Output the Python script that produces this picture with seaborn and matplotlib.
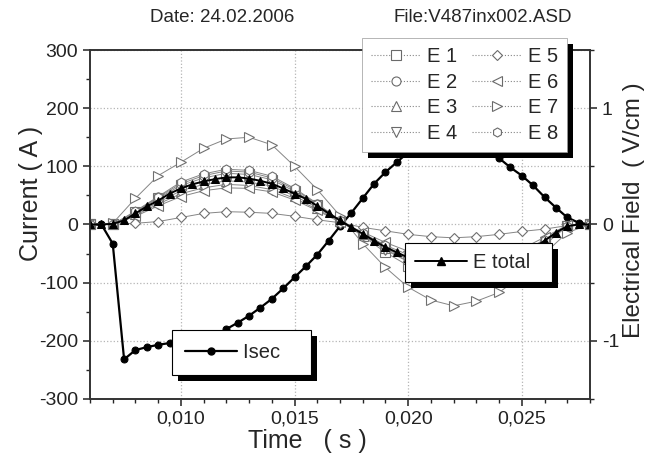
import numpy as np
import matplotlib
matplotlib.use("Agg")
import matplotlib.pyplot as plt
from matplotlib.lines import Line2D
from matplotlib.patches import Rectangle
from matplotlib.ticker import MultipleLocator, FuncFormatter
import seaborn as sns

# sampling times (s)
t_fine = np.round(np.arange(0.006, 0.02801, 0.0005), 4)    # Isec, E total
t_coarse = np.round(np.arange(0.006, 0.02801, 0.001), 3)   # E 1 .. E 8

# secondary current (A)
isec = [0, 0, -33, -232, -216, -211, -207, -204, -201, -198,
        -196, -191, -180, -169, -157, -143, -128, -110, -91, -72,
        -52, -28, -3, 20, 45, 70, 90, 107, 124, 139,
        150, 157, 159, 155, 144, 129, 114, 98, 84, 67,
        47, 29, 12, 3, 0]

# electrical field (V/cm)
e_total = [0, 0, 0.005, 0.035, 0.095, 0.155, 0.205, 0.265, 0.31, 0.345,
           0.37, 0.39, 0.405, 0.405, 0.395, 0.375, 0.35, 0.31, 0.265, 0.22,
           0.16, 0.095, 0.035, -0.025, -0.08, -0.14, -0.195, -0.24, -0.285, -0.325,
           -0.35, -0.37, -0.39, -0.39, -0.38, -0.355, -0.325, -0.295, -0.26, -0.205,
           -0.14, -0.07, -0.015, 0, 0]

e1 = [0, 0, 0.105, 0.225, 0.335, 0.40, 0.44, 0.43, 0.385, 0.285, 0.165, 0.03,
      -0.10, -0.24, -0.355, -0.44, -0.485, -0.475, -0.405, -0.32, -0.175, -0.015, 0]
e2 = [0, 0, 0.11, 0.235, 0.35, 0.42, 0.46, 0.45, 0.40, 0.30, 0.175, 0.035,
      -0.09, -0.215, -0.315, -0.39, -0.43, -0.42, -0.36, -0.285, -0.155, -0.01, 0]
e3 = [0, 0, 0.09, 0.19, 0.29, 0.345, 0.375, 0.365, 0.33, 0.245, 0.145, 0.03,
      -0.085, -0.205, -0.30, -0.375, -0.41, -0.40, -0.34, -0.275, -0.145, -0.01, 0]
e4 = [0, 0, 0.08, 0.175, 0.265, 0.315, 0.345, 0.335, 0.30, 0.225, 0.13, 0.025,
      -0.09, -0.22, -0.32, -0.40, -0.44, -0.43, -0.365, -0.29, -0.155, -0.01, 0]
e5 = [0, 0, 0.01, 0.025, 0.06, 0.095, 0.11, 0.105, 0.095, 0.07, 0.04, 0.015,
      -0.025, -0.055, -0.085, -0.105, -0.115, -0.105, -0.085, -0.06, -0.04, -0.01, 0]
e6 = [0, 0, 0.07, 0.16, 0.24, 0.29, 0.315, 0.31, 0.28, 0.21, 0.12, 0.02,
      -0.065, -0.155, -0.23, -0.285, -0.31, -0.305, -0.26, -0.21, -0.11, -0.005, 0]
e7 = [0, 0.01, 0.225, 0.42, 0.535, 0.655, 0.735, 0.75, 0.685, 0.50, 0.30, 0.075,
      -0.165, -0.37, -0.54, -0.65, -0.70, -0.66, -0.585, -0.44, -0.25, -0.07, 0]
e8 = [0, 0, 0.115, 0.24, 0.365, 0.435, 0.475, 0.465, 0.415, 0.31, 0.18, 0.035,
      -0.075, -0.18, -0.26, -0.325, -0.36, -0.35, -0.30, -0.24, -0.13, -0.01, 0]

e_series = [e1, e2, e3, e4, e5, e6, e7, e8]
e_labels = ["E 1", "E 2", "E 3", "E 4", "E 5", "E 6", "E 7", "E 8"]
e_markers = ["s", "o", "^", "v", "D", "<", ">", "h"]

sns.set_theme(style="ticks")
plt.rcParams['font.family'] = ['Liberation Sans', 'DejaVu Sans']
plt.rcParams['axes.unicode_minus'] = False

fig = plt.figure(figsize=(6.57, 4.59), dpi=100)
ax = fig.add_axes([0.137, 0.131, 0.761, 0.760])
ax2 = ax.twinx()

gray = '#858585'

sns.lineplot(x=t_fine, y=isec, ax=ax, color='black', lw=1.6, marker='o',
             ms=5, mfc='black', mec='black', legend=False)

for vals, mk in zip(e_series, e_markers):
    ms = 5 if mk == 'D' else 6.5
    sns.lineplot(x=t_coarse, y=vals, ax=ax2, color=gray, lw=0.7, marker=mk,
                 ms=ms, mfc='white', mec='#707070', mew=0.8, legend=False)

sns.lineplot(x=t_fine, y=e_total, ax=ax2, color='black', lw=1.4, marker='^',
             ms=5.5, mfc='black', mec='black', legend=False)

ax.set_xlim(0.006, 0.028)
ax.set_ylim(-300, 300)
ax2.set_ylim(-1.5, 1.5)

ax.xaxis.set_major_locator(MultipleLocator(0.005))
ax.xaxis.set_minor_locator(MultipleLocator(0.001))
ax.xaxis.set_major_formatter(FuncFormatter(lambda v, p: f"{v:.3f}".replace('.', ',')))
ax.yaxis.set_major_locator(MultipleLocator(100))
ax.yaxis.set_minor_locator(MultipleLocator(50))
ax.yaxis.set_major_formatter(FuncFormatter(lambda v, p: f"{v:.0f}"))
ax2.yaxis.set_major_locator(MultipleLocator(1))
ax2.yaxis.set_minor_locator(MultipleLocator(0.5))
ax2.yaxis.set_major_formatter(FuncFormatter(lambda v, p: f"{v:.0f}"))

for a in (ax, ax2):
    a.tick_params(which='major', direction='out', length=5, width=1.1, labelsize=14,
                  colors='#222222')
    a.tick_params(which='minor', direction='out', length=3, width=1.0)
    for s in a.spines.values():
        s.set_visible(True)
        s.set_linewidth(1.2)
        s.set_color('#333333')

ax.grid(True, which='major', linestyle=':', color='#b5b5b5', lw=0.9)

ax.set_xlabel("Time   ( s )", fontsize=18)
ax.set_ylabel("Current ( A )", fontsize=18)
ax2.set_ylabel("Electrical Field  ( V/cm )", fontsize=17.5)
ax.xaxis.set_label_coords(0.434, -0.085)
ax.yaxis.set_label_coords(-0.095, 0.59)
ax2.yaxis.set_label_coords(1.066, 0.54)

fig.text(222 / 657, 1 - 18 / 459, "Date: 24.02.2006", ha='center', va='center', fontsize=13.5)
fig.text(483 / 657, 1 - 18 / 459, "File:V487inx002.ASD", ha='center', va='center', fontsize=13.5)

# legends
h_e = [Line2D([], [], color=gray, lw=0.8, ls=':', marker=mk, ms=(5 if mk == 'D' else 6.5),
              mfc='white', mec='#6a6a6a', mew=0.8, label=lb)
       for mk, lb in zip(e_markers, e_labels)]
leg_kw = dict(fancybox=False, edgecolor='black', framealpha=1, fontsize=14.5,
              handletextpad=0.3, borderaxespad=0)
leg1 = ax2.legend(handles=h_e, loc='upper left', bbox_to_anchor=(0.544, 1.034), ncol=2,
                  handlelength=2.5, columnspacing=0.7, labelspacing=0.32, borderpad=0.45,
                  **leg_kw)
leg1.get_frame().set_linewidth(0.5)
leg1.get_frame().set_edgecolor('#999999')
ax2.add_artist(leg1)

h_isec = Line2D([], [], color='black', lw=1.6, marker='o', ms=5, label='Isec   ')
leg2 = ax2.legend(handles=[h_isec], loc='upper left', bbox_to_anchor=(0.164, 0.198),
                  handlelength=2.6, borderpad=0.65, **leg_kw)
leg2.get_frame().set_linewidth(0.8)
ax2.add_artist(leg2)

h_tot = Line2D([], [], color='black', lw=1.4, marker='^', ms=5.5, label='E total  ')
leg3 = ax2.legend(handles=[h_tot], loc='upper left', bbox_to_anchor=(0.63, 0.447),
                  handlelength=2.6, borderpad=0.5, **leg_kw)
leg3.get_frame().set_linewidth(0.8)

# black drop shadows behind the legend boxes
fig.canvas.draw()
renderer = fig.canvas.get_renderer()
inv = fig.transFigure.inverted()
for lg in (leg1, leg2, leg3):
    bb = lg.get_frame().get_window_extent(renderer)
    (x0, y0), (x1, y1) = inv.transform([[bb.x0 + 6, bb.y0 - 6], [bb.x1 + 6, bb.y1 - 6]])
    ax2.add_artist(Rectangle((x0, y0), x1 - x0, y1 - y0, transform=fig.transFigure,
                             facecolor='black', edgecolor='none', clip_on=False,
                             zorder=lg.get_zorder() - 0.5))

fig.savefig("out.png", dpi=100)
